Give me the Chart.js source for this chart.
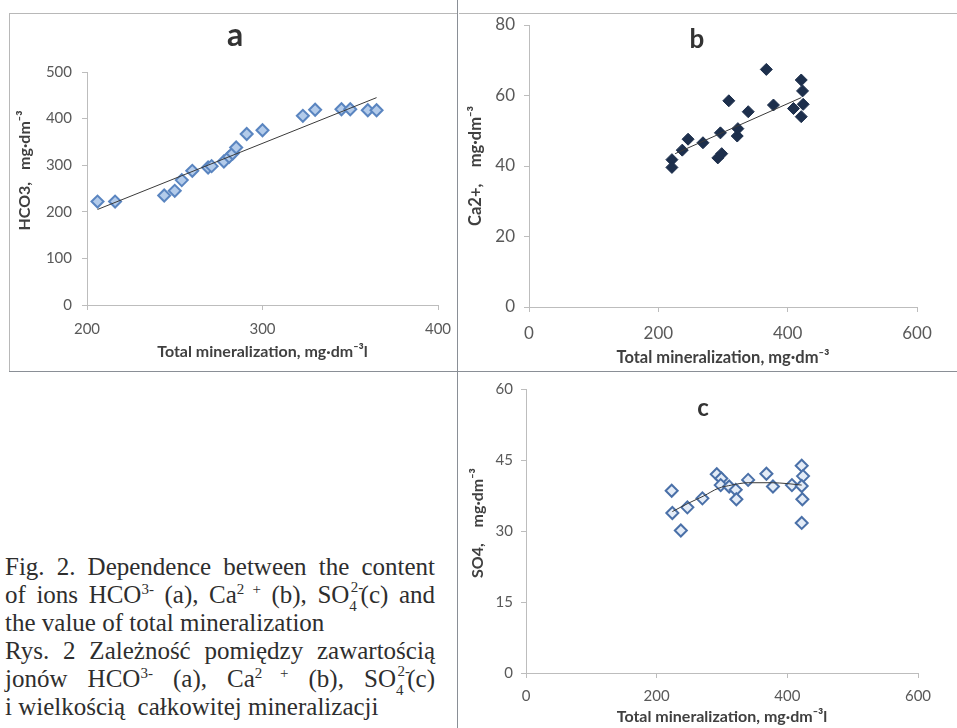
<!DOCTYPE html>
<html>
<head>
<meta charset="utf-8">
<script src="https://cdn.jsdelivr.net/npm/chart.js@4.4.0/dist/chart.umd.min.js"></script>
<style>
  body { margin: 0; background: #fff; width: 957px; height: 728px; overflow: hidden; position: relative; }
  canvas { position: absolute; }
  .line { position: absolute; background: #8a8f96; }
  .frame { position: absolute; border: 1px solid #b8b8b8; border-bottom: none; border-right: none; }
  .letter { position: absolute; font-family: Lato, sans-serif; font-weight: bold; color: #333; transform: translateX(-50%); }
  #caption { position: absolute; left: 5px; top: 553px; width: 430px; font-family: "Liberation Serif", serif;
             font-size: 25px; line-height: 28px; color: #2e2e2e; }
  #caption div { white-space: nowrap; }
  #caption .j { text-align: justify; text-align-last: justify; white-space: normal; }
  sup, sub { font-size: 0.6em; line-height: 0; }
  .ss { display: inline-block; position: relative; width: 0.75em; height: 1em; font-size: 0.6em; }
  .ss .u { position: absolute; left: 0.1em; top: -0.55em; line-height: 1; }
  .ss .d { position: absolute; left: 0; top: 0.75em; line-height: 1; }
</style>
</head>
<body>
<div class="frame" style="left:9px; top:13px; width:448px; height:358px;"></div>
<div class="frame" style="left:459px; top:13px; width:498px; height:358px; border-left:none;"></div>
<div class="line" style="left:457px; top:0; width:1px; height:728px;"></div>
<div class="line" style="left:9px; top:371px; width:948px; height:1px;"></div>

<canvas id="chartA" width="448" height="357" style="left:9px; top:13px;"></canvas>
<canvas id="chartB" width="497" height="360" style="left:460px; top:13px;"></canvas>
<canvas id="chartC" width="497" height="351" style="left:460px; top:377px;"></canvas>

<div class="letter" style="left:235px; top:14px; font-size:32px;">a</div>
<div class="letter" style="left:697px; top:22px; font-size:26px;">b</div>
<div class="letter" style="left:703px; top:392px; font-size:24px;">c</div>

<div id="caption">
  <div class="j">Fig. 2. Dependence between the content</div>
  <div class="j">of ions HCO<sup>3-</sup> (a), Ca<sup>2 +</sup> (b), SO<span class="ss"><span class="u">2-</span><span class="d">4</span></span>(c) and</div>
  <div>the value of total mineralization</div>
  <div class="j">Rys. 2 Zależność pomiędzy zawartością</div>
  <div class="j">jonów HCO<sup>3-</sup> (a), Ca<sup>2 +</sup> (b), SO<span class="ss"><span class="u">2-</span><span class="d">4</span></span>(c)</div>
  <div>i wielkością&nbsp; całkowitej mineralizacji</div>
</div>

<script>
// (a) HCO3 vs total mineralization
const hco3X = [206, 216, 244, 250, 254, 260, 269, 271, 278, 281, 283, 285, 291, 300, 323, 330, 345, 350, 360, 365];
const hco3Y = [222, 222, 235, 245, 268, 288, 295, 298, 308, 318, 325, 338, 367, 375, 406, 419, 420, 420, 418, 418];
const hco3TrendX = [206, 365];
const hco3TrendY = [205, 445];
const aXTicks = [200, 300, 400];
const aYTicks = [0, 100, 200, 300, 400, 500];

// (b) Ca2+ vs total mineralization
const caX = [221, 221, 237, 246, 269, 292, 298, 296, 309, 322, 323, 339, 367, 378, 409, 421, 423, 424, 421];
const caY = [41.8, 39.6, 44.5, 47.6, 46.6, 42.3, 43.5, 49.4, 58.5, 48.5, 50.6, 55.4, 67.4, 57.3, 56.3, 64.4, 61.3, 57.5, 54];
const caTrendX = [226, 421];
const caTrendY = [43.5, 59.4];
const bXTicks = [0, 200, 400, 600];
const bYTicks = [0, 20, 40, 60, 80];

// (c) SO4 vs total mineralization
const so4X = [223, 224, 237, 247, 270, 292, 299, 298, 311, 321, 322, 340, 368, 378, 407, 422, 424, 422, 423, 422];
const so4Y = [38.5, 33.8, 30.1, 35, 36.9, 42, 41.1, 39.7, 39.4, 38.7, 36.7, 40.8, 42.1, 39.4, 39.7, 43.8, 41.6, 39.5, 36.7, 31.7];
const so4TrendX = [224, 249, 272, 294, 315, 340, 376, 401, 422];
const so4TrendY = [34.1, 35.9, 37.4, 39, 39.7, 40.2, 40.2, 40, 39.7];
const cXTicks = [0, 200, 400, 600];
const cYTicks = [0, 15, 30, 45, 60];

function pts(xs, ys) {
  return xs.map((x, i) => ({ x: x, y: ys[i] }));
}

// one axis; sizes fixed in afterFit so the plot area lands where the scan has it
function axis(tickVals, titleText, o) {
  return {
    type: 'linear',
    min: tickVals[0],
    max: tickVals[tickVals.length - 1],
    ticks: {
      stepSize: tickVals[1] - tickVals[0],
      color: '#595959',
      font: { family: 'Lato', size: o.tickSize },
      padding: o.tickPad
    },
    grid: { display: true, drawOnChartArea: false, drawTicks: true, tickLength: 5, color: '#bdbdbd' },
    border: { display: true, color: '#bdbdbd' },
    title: {
      display: true,
      text: titleText,
      color: '#404040',
      font: { family: 'Lato', size: o.titleSize || 16, weight: 'bold' },
      padding: o.titlePad
    },
    afterFit: function (scale) {
      if (scale.isHorizontal()) scale.height = o.size;
      else scale.width = o.size;
      // labels may hang over the canvas padding, don't let them shrink the plot
      scale.paddingTop = scale.paddingBottom = scale.paddingLeft = scale.paddingRight = 0;
    }
  };
}

function makeChart(id, cfg) {
  const ctx = document.getElementById(id).getContext('2d');
  return new Chart(ctx, {
    type: 'scatter',
    data: {
      datasets: [
        {
          data: pts(cfg.x, cfg.y),
          pointStyle: 'rectRot',
          pointRadius: cfg.radius,
          backgroundColor: cfg.fill,
          borderColor: cfg.edge,
          pointBorderWidth: cfg.edgeWidth,
          showLine: false,
          order: 2
        },
        {
          type: 'line',
          data: pts(cfg.tx, cfg.ty),
          borderColor: '#3a3a3a',
          borderWidth: 1,
          pointRadius: 0,
          fill: false,
          cubicInterpolationMode: 'monotone',
          order: 1
        }
      ]
    },
    options: {
      responsive: false,
      animation: false,
      layout: { padding: cfg.padding },
      plugins: { legend: { display: false }, tooltip: { enabled: false } },
      scales: { x: cfg.xAxis, y: cfg.yAxis }
    }
  });
}

makeChart('chartA', {
  x: hco3X, y: hco3Y, tx: hco3TrendX, ty: hco3TrendY,
  radius: 6, fill: '#b3cbea', edge: '#5a85c0', edgeWidth: 2,
  padding: { left: 0, top: 59, right: 19, bottom: 5 },
  xAxis: axis(aXTicks, 'Total mineralization, mg·dm⁻³l', { tickSize: 15, tickPad: 10, size: 60, titlePad: { top: 0, bottom: 4 } }),
  yAxis: axis(aYTicks, '\u2003\u2003\u2003HCO3,\u2003mg·dm⁻³', { tickSize: 15, tickPad: 10, size: 78, titlePad: { top: 6, bottom: 0 } })
});

makeChart('chartB', {
  x: caX, y: caY, tx: caTrendX, ty: caTrendY,
  radius: 6, fill: '#1d2f4c', edge: '#1d2f4c', edgeWidth: 1,
  padding: { left: 0, top: 12, right: 40, bottom: 0 },
  xAxis: axis(bXTicks, 'Total mineralization, mg·dm⁻³', { tickSize: 17, tickPad: 11, size: 66, titleSize: 16.5, titlePad: { top: 0, bottom: 5 } }),
  yAxis: axis(bYTicks, 'Ca2+,\u2003 mg·dm⁻³', { tickSize: 17, tickPad: 9, size: 69, titleSize: 16.5, titlePad: { top: 6, bottom: 0 } })
});

makeChart('chartC', {
  x: so4X, y: so4Y, tx: so4TrendX, ty: so4TrendY,
  radius: 6, fill: '#e4ecf7', edge: '#4a70a8', edgeWidth: 2,
  padding: { left: 0, top: 12, right: 39, bottom: 0 },
  xAxis: axis(cXTicks, 'Total mineralization, mg·dm⁻³l', { tickSize: 15, tickPad: 9, size: 55, titlePad: { top: 0, bottom: 2 } }),
  yAxis: axis(cYTicks, '\u2003 SO4,\u2003 mg·dm⁻³', { tickSize: 15, tickPad: 8, size: 66, titlePad: { top: 8, bottom: 0 } })
});
</script>
</body>
</html>
